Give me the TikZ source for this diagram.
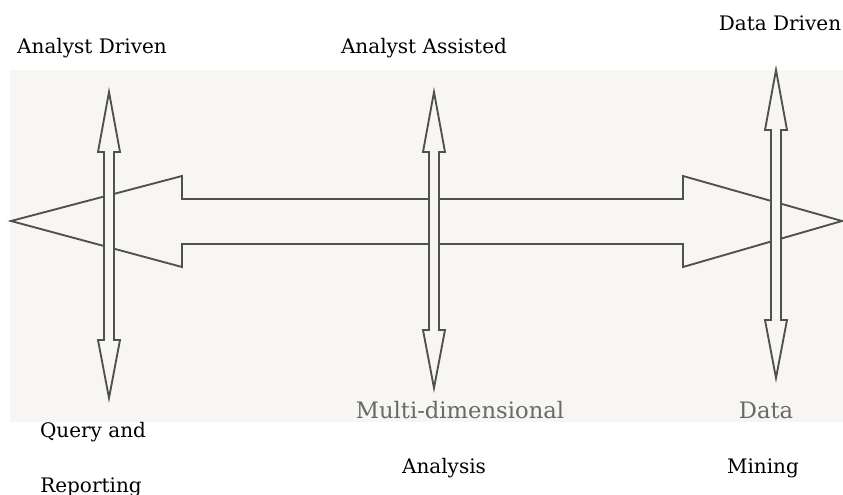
\documentclass[tikz,border=0pt]{standalone}
\usepackage{fontspec}
\setmainfont{DejaVu Serif}
\usepackage{tikz}
\usetikzlibrary{positioning, calc}
\definecolor{scanbg}{RGB}{247,246,243}
\definecolor{inkgray}{RGB}{80,80,80}
\definecolor{printgray}{RGB}{105,105,105}

\begin{document}
\begin{tikzpicture}[
  x=0.75pt, y=-0.75pt,
  lbl/.style={font=\fontsize{15}{18}\selectfont, inner sep=0pt},
  scanlbl/.style={font=\fontsize{17}{20}\selectfont, inner sep=0pt, color=printgray},
  blockarr/.style={draw=inkgray, line width=1.4pt, fill=scanbg, line join=miter}
]
  \useasboundingbox (0,0) rectangle (843,495);
  \fill[scanbg] (10,70) rectangle (843,422);

  % horizontal block arrow
  \draw[blockarr] (11,221) -- (182,176) -- (182,199) -- (683,199) -- (683,176)
    -- (842,221) -- (683,267) -- (683,244) -- (182,244) -- (182,267) -- cycle;

  % vertical block arrows
  \foreach \x/\top/\bot in {109/92/398, 434/92/388, 776/70/378}
    \draw[blockarr] (\x,\top) -- (\x+11,\top+60) -- (\x+5,\top+60)
      -- (\x+5,\bot-58) -- (\x+11,\bot-58) -- (\x,\bot) -- (\x-11,\bot-58)
      -- (\x-5,\bot-58) -- (\x-5,\top+60) -- (\x-11,\top+60) -- cycle;

  \node[lbl] (drv)  at (92,48)  {Analyst Driven};
  \node[lbl] (asst) at (424,48) {Analyst Assisted};
  \node[lbl] (ddrv) at (780,23) {Data Driven};
  \node[scanlbl] (multi) at (460,410) {Multi-dimensional};
  \node[scanlbl] (data)  at (766,410) {Data};
  \node[lbl] (query) at (93,432)  {Query and};
  \node[lbl] (anal)  at (444,468) {Analysis};
  \node[lbl] (mine)  at (763,468) {Mining};
  \node[lbl] (rep)   at (91,487)  {Reporting};
\end{tikzpicture}
\end{document}
